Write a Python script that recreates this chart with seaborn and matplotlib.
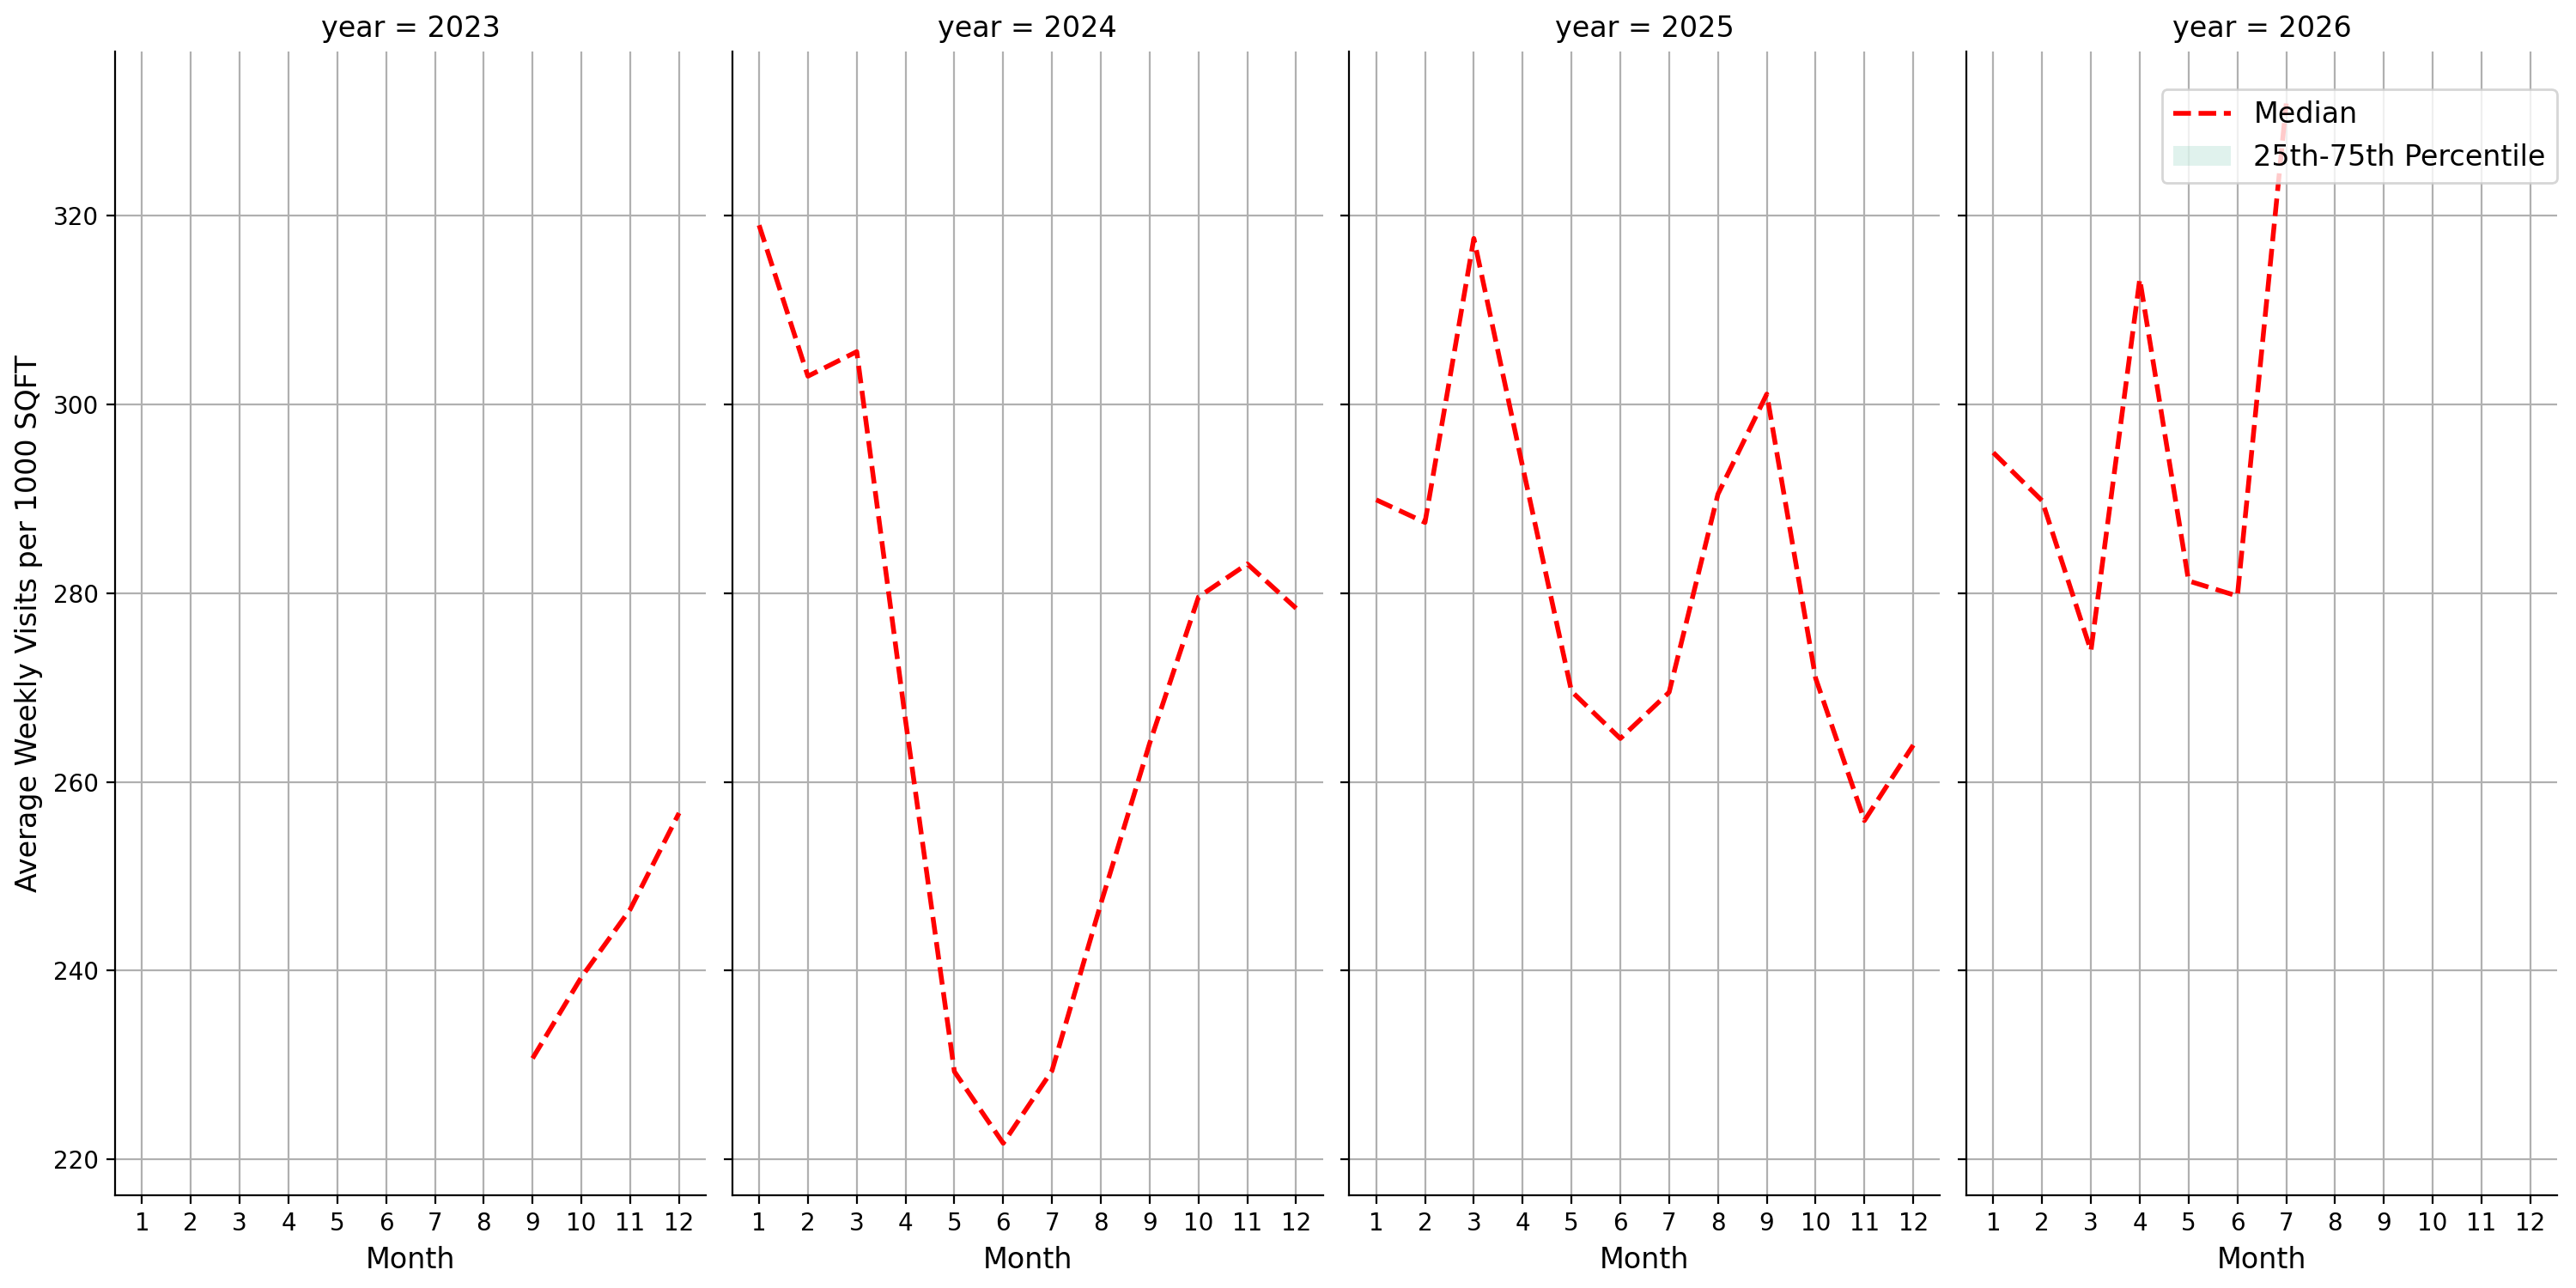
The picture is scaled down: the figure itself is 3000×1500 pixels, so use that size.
import numpy as np
import pandas as pd
import seaborn as sns
import matplotlib.pyplot as plt
from matplotlib.lines import Line2D
from matplotlib.patches import Patch

# monthly medians
months_2023 = [9, 10, 11, 12]
median_2023 = [230.7, 239.3, 246.5, 256.7]

months_2024 = list(range(1, 13))
median_2024 = [319.0, 303.0, 305.6, 266.5, 229.3, 221.7, 229.4, 247.1, 264.1, 279.6, 283.1, 278.4]

months_2025 = list(range(1, 13))
median_2025 = [289.9, 287.5, 317.6, 293.4, 269.6, 264.6, 269.5, 290.5, 301.1, 271.0, 255.9, 263.9]

months_2026 = [1, 2, 3, 4, 5, 6, 7]
median_2026 = [294.9, 289.8, 273.9, 313.3, 281.3, 279.7, 331.9]

years = [2023, 2024, 2025, 2026]
month_ticks = list(range(1, 13))

frames = []
for yr, m, v in zip(years,
                    [months_2023, months_2024, months_2025, months_2026],
                    [median_2023, median_2024, median_2025, median_2026]):
    frames.append(pd.DataFrame({"year": yr, "month": m, "median": v}))
df = pd.concat(frames, ignore_index=True)

g = sns.FacetGrid(df, col="year", height=7.5, aspect=0.5, sharex=True, sharey=True)
g.map_dataframe(sns.lineplot, x="month", y="median", color="red",
                linestyle="--", linewidth=2)
g.set_titles("{col_var} = {col_name}", size=12)
g.set_axis_labels("Month", "Average Weekly Visits per 1000 SQFT", fontsize=12)

for ax in g.axes.flat:
    ax.set_xticks(month_ticks)
    ax.grid(True)

band_color = sns.color_palette("Set2")[0]
handles = [Line2D([0], [0], color="red", linestyle="--", linewidth=2),
           Patch(facecolor=band_color, alpha=0.2)]
g.axes.flat[-1].legend(handles, ["Median", "25th-75th Percentile"],
                       loc="upper right", bbox_to_anchor=(1.0, 0.967),
                       borderaxespad=0, fontsize=12)

g.figure.set_size_inches(15, 7.5)
g.figure.subplots_adjust(left=0.0447, right=0.9927, top=0.96, bottom=0.072, wspace=0.0446)
g.figure.savefig("out.png", dpi=200)
